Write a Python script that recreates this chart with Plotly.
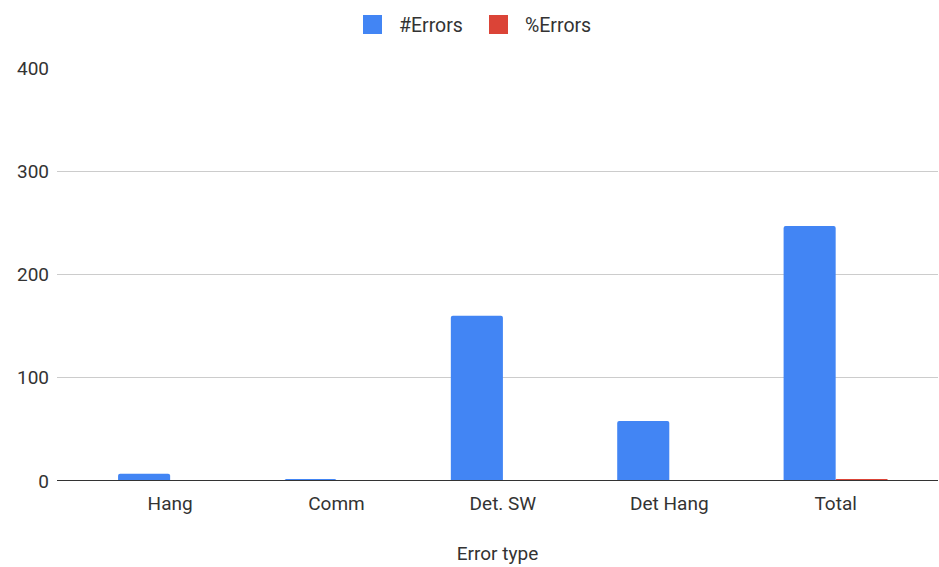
import plotly.graph_objects as go

categories = ["Hang", "Comm", "Det. SW", "Det Hang", "Total"]
num_errors = [7, 2, 160, 58, 247]
pct_errors = [0.028, 0.008, 0.648, 0.235, 1.0]
y_ticks = [0, 100, 200, 300, 400]
series_names = ["#Errors", "%Errors"]
series_colors = ["#4285F4", "#DB4437"]

FONT = "Roboto, Arial, sans-serif"
TXT = "#333333"

fig = go.Figure()
for name, vals, col in zip(series_names, [num_errors, pct_errors], series_colors):
    fig.add_trace(go.Bar(name=name, x=categories, y=vals, showlegend=False,
                         marker=dict(color=col, line=dict(width=0), cornerradius=2)))

# baseline drawn on top of the bars
fig.add_shape(type="line", xref="paper", yref="y", x0=0, x1=1, y0=0, y1=0,
              line=dict(color="#333333", width=2), layer="above")

# legend: coloured squares with labels, centred over the plot
legend_items = [(363, 397), (489, 523)]
for (sx, tx), name, col in zip(legend_items, series_names, series_colors):
    fig.add_shape(type="rect", xref="paper", yref="paper",
                  x0=(sx - 57) / 881, x1=(sx + 19 - 57) / 881,
                  y0=(481 - 34) / 413, y1=(481 - 15) / 413,
                  fillcolor=col, line=dict(width=0))
    fig.add_annotation(text=name, xref="paper", yref="paper",
                       x=(tx - 57) / 881, y=(481 - 25) / 413,
                       xanchor="left", yanchor="middle", showarrow=False,
                       font=dict(size=19.5, color=TXT, family=FONT))

fig.update_layout(
    width=939, height=567,
    margin=dict(l=57, r=1, t=68, b=86),
    paper_bgcolor="white", plot_bgcolor="white",
    barmode="group", bargap=0.374, bargroupgap=0,
    font=dict(family=FONT, size=19, color=TXT),
    showlegend=False,
)
fig.update_xaxes(
    range=[-0.68, 4.615],
    showgrid=False, showline=False, zeroline=False,
    ticks="", ticklabelstandoff=9, tickfont=dict(size=19, color=TXT),
    title=dict(text="Error type", font=dict(size=19, color=TXT), standoff=32),
)
fig.update_yaxes(
    range=[0, 400], tickvals=y_ticks,
    showgrid=True, gridcolor="#cccccc", gridwidth=1,
    zeroline=False, showline=False, ticks="", ticklabelstandoff=7,
    tickfont=dict(size=19, color=TXT),
)

fig.write_html("out.html")
